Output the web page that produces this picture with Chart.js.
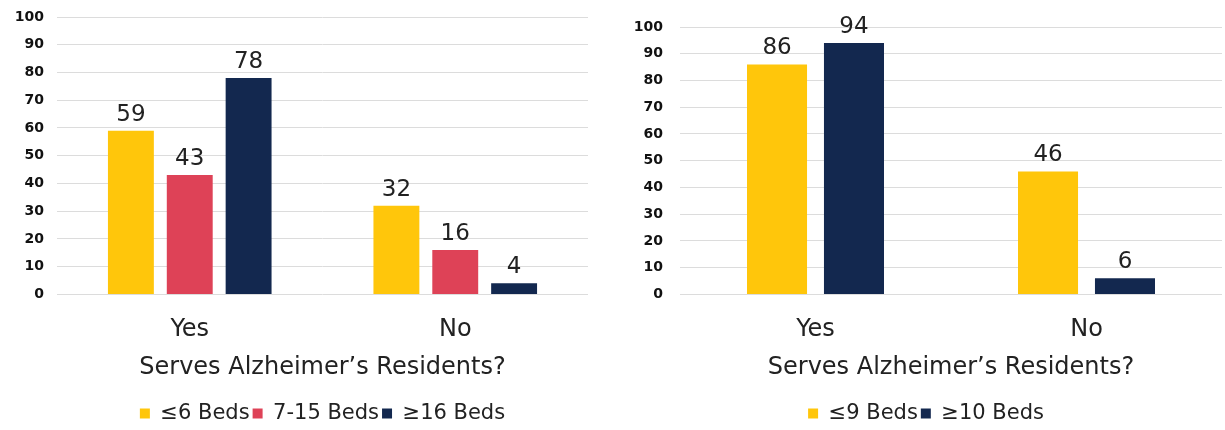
<!DOCTYPE html>
<html>
<head>
<meta charset="utf-8">
<script src="https://cdn.jsdelivr.net/npm/chart.js@4"></script>
<style>
  body { margin: 0; background: #fff; }
  .box { position: absolute; top: 0; width: 605px; height: 430px; }
  #leftBox { left: 0; }
  #rightBox { left: 620px; }
</style>
</head>
<body>
<div class="box" id="leftBox"><canvas id="leftChart"></canvas></div>
<div class="box" id="rightBox"><canvas id="rightChart"></canvas></div>
<script>
// categories + series
const categories = ['Yes', 'No'];
const axisTitle = 'Serves Alzheimer\u2019s Residents?';

const leftSeries = ['≤6 Beds', '7-15 Beds', '≥16 Beds'];
const upTo6Beds = [59, 32];
const beds7to15 = [43, 16];
const beds16Plus = [78, 4];

const rightSeries = ['≤9 Beds', '≥10 Beds'];
const upTo9Beds = [86, 46];
const beds10Plus = [94, 6];

const yMax = 100;
const yStep = 10;

const YELLOW = '#FFC60B';
const RED = '#DE4257';
const NAVY = '#13284F';
const FONT = 'DejaVu Sans';

// draws the value above every bar
const valueLabels = {
    id: 'valueLabels',
    afterDatasetsDraw(chart) {
        const ctx = chart.ctx;
        ctx.save();
        ctx.font = '23px "' + FONT + '"';
        ctx.fillStyle = '#222';
        ctx.textAlign = 'center';
        ctx.textBaseline = 'alphabetic';
        chart.data.datasets.forEach((ds, i) => {
            chart.getDatasetMeta(i).data.forEach((bar, j) => {
                ctx.fillText(ds.data[j], bar.x, bar.y - 10);
            });
        });
        ctx.restore();
    }
};

// legend sits lower than chart.js would put it
const legendHeight = {
    id: 'legendHeight',
    beforeInit(chart) {
        const origFit = chart.legend.fit;
        chart.legend.fit = function () {
            origFit.bind(chart.legend)();
            this.height = 30;
        };
    }
};

function makeChart(id, datasets, opts) {
    const ctx = document.getElementById(id).getContext('2d');
    return new Chart(ctx, {
        type: 'bar',
        data: { labels: categories, datasets: datasets },
        plugins: [valueLabels, legendHeight],
        options: {
            responsive: true,
            maintainAspectRatio: false,
            animation: false,
            layout: { padding: { top: opts.top, right: opts.right, left: opts.left, bottom: 0 } },
            datasets: {
                bar: {
                    categoryPercentage: opts.cat,
                    barPercentage: 0.78
                }
            },
            plugins: {
                tooltip: { enabled: false },
                legend: {
                    position: 'bottom',
                    fullSize: opts.legendFull,
                    labels: {
                        boxWidth: 10,
                        boxHeight: 10,
                        color: '#222',
                        padding: 3,
                        font: { family: FONT, size: 21, lineHeight: 1 }
                    }
                }
            },
            scales: {
                x: {
                    grid: { display: false, drawTicks: false },
                    border: { display: false },
                    ticks: { color: '#222', padding: 21, font: { family: FONT, size: 24 } },
                    title: {
                        display: true,
                        text: axisTitle,
                        color: '#222',
                        padding: { top: 0, bottom: 30 },
                        font: { family: FONT, size: 24, lineHeight: 0.2 }
                    }
                },
                y: {
                    min: 0,
                    max: yMax,
                    afterFit: (scale) => { scale.width = opts.axisWidth; },
                    // invisible tick marks keep the gap between labels and plot
                    grid: { color: '#dcdcdc', drawTicks: true, tickLength: opts.tickGap, tickColor: 'rgba(0,0,0,0)' },
                    border: { display: false },
                    ticks: {
                        stepSize: yStep,
                        padding: 1,
                        color: '#111',
                        font: { family: FONT, size: 14, weight: 'bold' }
                    }
                }
            }
        }
    });
}

const leftChart = makeChart('leftChart', [
    { label: leftSeries[0], data: upTo6Beds, backgroundColor: YELLOW },
    { label: leftSeries[1], data: beds7to15, backgroundColor: RED },
    { label: leftSeries[2], data: beds16Plus, backgroundColor: NAVY }
], { top: 17, right: 17, left: 0, cat: 0.665, axisWidth: 57, tickGap: 12, legendFull: false });

const rightChart = makeChart('rightChart', [
    { label: rightSeries[0], data: upTo9Beds, backgroundColor: YELLOW },
    { label: rightSeries[1], data: beds10Plus, backgroundColor: NAVY }
], { top: 27, right: 3, left: 10, cat: 0.568, axisWidth: 50, tickGap: 16, legendFull: true });
</script>
</body>
</html>
